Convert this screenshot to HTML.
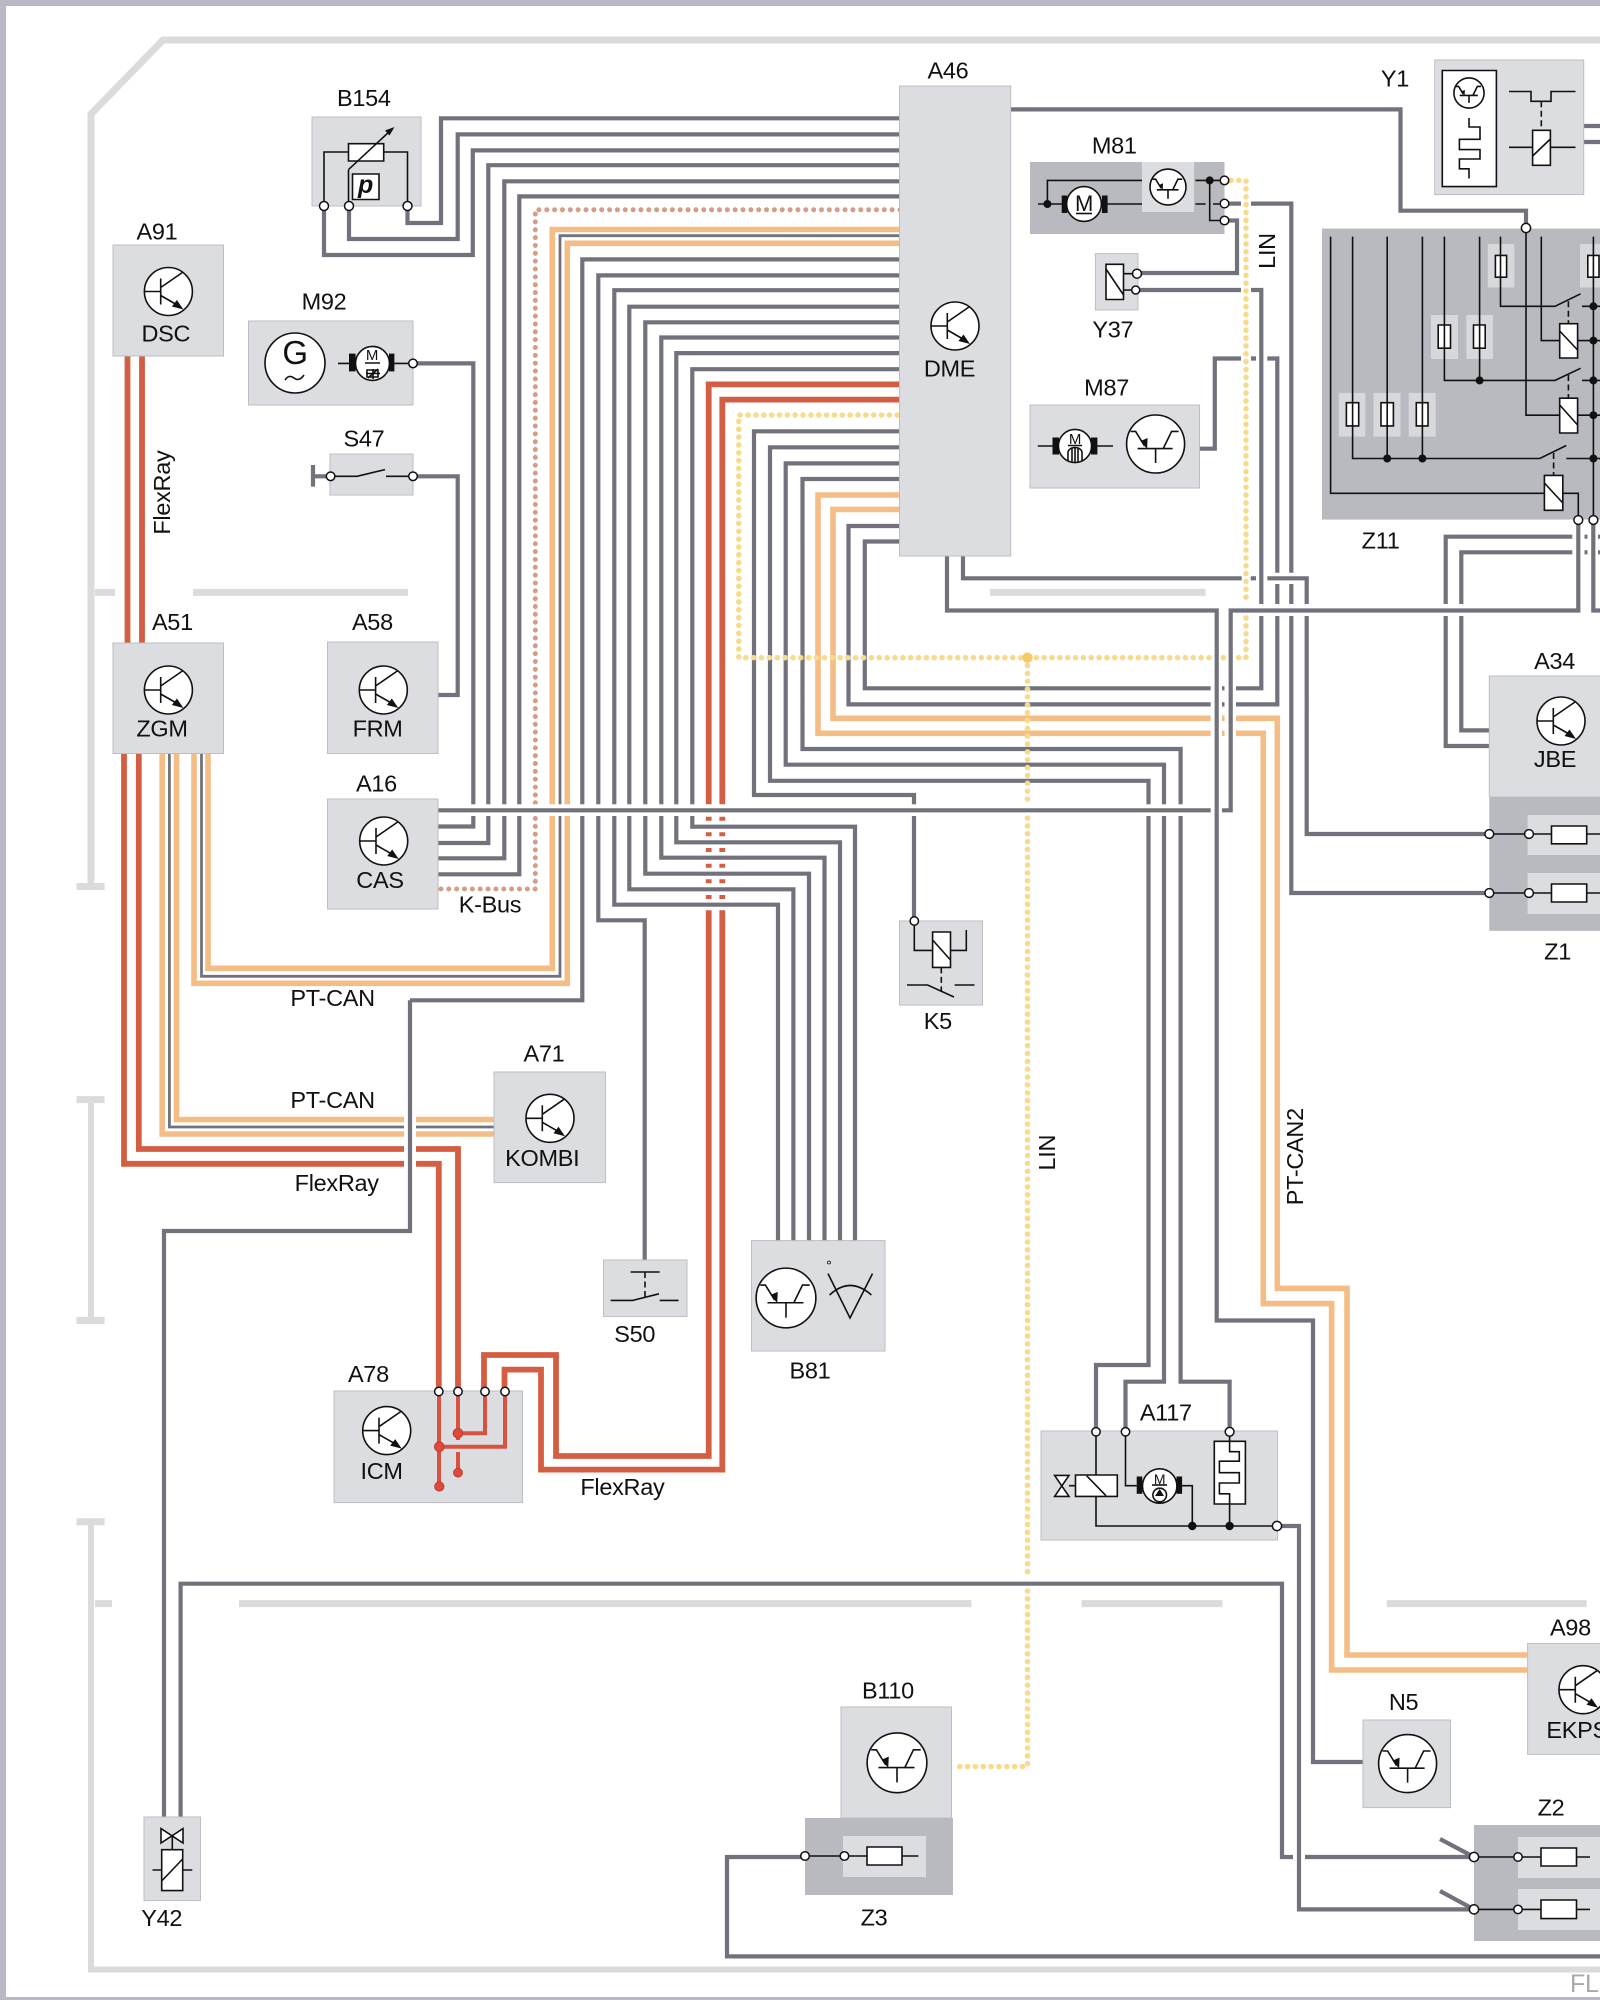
<!DOCTYPE html>
<html><head><meta charset="utf-8"><title>Diagram</title>
<style>
html,body{margin:0;padding:0;background:#fff;width:1600px;height:2000px;overflow:hidden}
svg{display:block}
.f{fill:none;stroke:#dadbdb}
.g{fill:none;stroke:#72727d;stroke-width:4.2}
.t{fill:none;stroke:#72727d;stroke-width:2.8}
.o{fill:none;stroke:#f4bd85;stroke-width:5.6}
.r{fill:none;stroke:#d35e43;stroke-width:5.8}
.ri{fill:none;stroke:#d8533f;stroke-width:4}
.y{fill:none;stroke:#f8da8a;stroke-width:5.6;stroke-linecap:round;stroke-dasharray:0 7.85}
.k{fill:none;stroke:#d69c86;stroke-width:5;stroke-linecap:round;stroke-dasharray:0 7.85}
.b{fill:#dcdde1;stroke:#bcbec3;stroke-width:1}
.d{fill:#b9babf}
.l{fill:#dcdde1}
.s{fill:none;stroke:#111;stroke-width:1.6;vector-effect:non-scaling-stroke}
.w{fill:#fff;stroke:#111;stroke-width:1.6;vector-effect:non-scaling-stroke}
.p{fill:#fff;stroke:#111;stroke-width:1.5}
.h{fill:#111}
.rd{fill:#dc4a3c;stroke:#c23b2e;stroke-width:1}
text{font-family:"Liberation Sans",sans-serif;font-size:23.5px;letter-spacing:-.3px;fill:#111;text-anchor:middle}
</style></head><body>
<svg xmlns="http://www.w3.org/2000/svg" width="1600" height="2000" viewBox="0 0 1600 2000">
<defs>
<g id="npn"><circle r="24" class="w"/><path class="s" d="M-24 0H-7.7M-7.7-13V13M-7.7-4L14-19M-7.7 4L8 13"/><polygon class="h" points="15,18 3.5,15 8.5,8.5"/></g>
<g id="hall"><circle r="29" class="w"/><path class="s" d="M-25-12.6H-20L-11 2M-18 4.6H17M0 4.6V19M7.6 4.6L16-12.6H23"/><polygon class="h" points="-8.5,5 -15,-3 -8,-6"/></g>
</defs>

<!-- frames -->
<path d="M0 3H1600M3 0V2000" fill="none" stroke="#b9b9c6" stroke-width="6"/>
<path d="M0 1998.5H1600" stroke="#b9b9c6" stroke-width="3"/>
<path class="f" d="M1600 40H163L91 114V886.5" style="stroke-width:7"/>
<path class="f" style="stroke-width:6" d="M91 1099.6V1320.5M91 1521.7V1969.5H1600"/>
<path style="stroke:#dadbdb;stroke-width:7;fill:none" d="M76.5 886.5H104.6M76.5 1099.6H104.6M76.5 1320.5H104.6M76.5 1521.7H104.6M95 592.4H115M193 592.4H408M990 592.4H1205.6M95 1603.6H112M239 1603.6H971.4M1081.6 1603.6H1222.5M1386.7 1603.6H1586.7"/>

<!-- wires: gray -->
<path class="g" d="M900 118.3H441V223H407.5V206
M900 134.4H457.7V239H349V206
M900 150.4H472.8V255H324V206
M413 363.4H473.3V826.5H438
M413 476.3H457.7V695H438
M900 165.2H488.3V843H438
M900 181.3H504.3V858.3H438
M900 196.4H519.3V874.3H438
M900 259.4H582.3V1000.3H410
M900 275.4H598.3V920.3H644.7V1260
M900 290.2H614.3V904.7H778V1241
M900 306.7H629.3V889.3H793.4V1241
M900 322.3H645.3V873.7H809V1241
M900 337.5H661.3V857.7H824.5V1241
M900 353.1H676.3V842.3H840V1241
M900 369.2H692.3V826.7H855V1241
M900 431.3H754V795H914V921
M900 447.3H770V780.8H1148.5V1365H1096V1431.8
M900 463.4H785.7V764.7H1164V1381.7H1125.5V1431.8
M900 479H802.5V749H1180.6V1381.7H1229.6V1431.8
M900 526H848.5V704.4H1210.7M1236 704.4H1277.3V584M1277.3 572.7V358.5H1267.3M1256 358.5H1251M1241 358.5H1214.8V448.7H1199.5
M900 541.5H864.8V688.3H1210.7M1236 688.3H1261.3V290H1251M1241 290H1135.7
M963 556V578.3H1241.7M1250.7 578.3H1256M1267.3 578.3H1306.7V834H1489
M1224 203.6H1241M1251 203.6H1291.3V572.7M1291.3 584V893H1489
M1224 220.5H1237V273H1137
M1222 688.3H1224.5M1222 704.4H1224.5
M1010 109.4H1400.5V210.7H1526V228
M1489 746H1445.7V536.7H1572.3M1489 730.4H1461.3V552.3H1572.3
M1584.5 536.7H1587.5M1584.5 552.3H1587.5M1598 536.7H1600M1598 552.3H1600
M1584 126H1600M1584 142H1600
M1277 1526H1299V1909.4H1474
M180.6 1817V1583.7H1282V1857H1293M1305 1857H1474
M805 1857H727V1956.4H1600
M313 465V486.6M313 476.3H330"/>
<path class="t" d="M900 235.7H560V976.3H201.5V753.5M169.4 753.5V1127H494"/>

<!-- orange -->
<path class="o" d="M900 229.5H552.3V968.3H208V753.5
M900 243.3H567.3V983.3H194V753.5
M176.5 753.5V1119.6H494M162.2 753.5V1134H494
M900 495H818V733.3H1210.7M1236 733.3H1263.3V1303.6H1331.6V1670H1527
M900 509.4H833V718.3H1210.7M1236 718.3H1277.3V1288.4H1347V1655H1527
M1222 718.3H1224.5M1222 733.3H1224.5"/>
<path class="k" d="M900 209.8H535.3V889H438"/>

<!-- red -->
<path class="r" d="M127.5 356V643M142 356V643M124 753.5V1163.8H438.8V1391M138.8 753.5V1149H458V1391"/>

<!-- halos -->
<rect x="440" y="804.3" width="770.7" height="11.7" fill="#fff"/>
<rect x="1236" y="604" width="336" height="12" fill="#fff"/>
<rect x="404" y="1114" width="12" height="54" fill="#fff"/>

<!-- after halos -->
<path class="r" d="M900 384.4H708.7V804.3M708.7 910.3V1456H556V1355H484V1391
M900 399.6H722.3V804.3M722.3 910.3V1469.6H541V1369.6H504.5V1391
M708.7 816.7v4M722.3 816.7v4M708.7 832.3v4M722.3 832.3v4M708.7 848v4M722.3 848v4M708.7 863.7v4M722.3 863.7v4M708.7 879.3v4M722.3 879.3v4M708.7 895v4M722.3 895v4"/>
<path class="g" d="M410 1000.3V1231H164V1817
M438 810.3H1210.7M1222 810.3H1230.7V610.5H1578.3V520
M947 556V610.5H1216.7V1320.5H1313V1762H1363
M1593.3 520V610.5H1600"/>
<path class="y" d="M1231 180.4H1246V604M1246 618V657.7H1232M1223.3 657.7H1223.4M1209 657.7H738.8V415H899"/>
<path class="y" d="M1027.5 657.7V804M1027.5 818V1577M1027.5 1591V1766.6H955.6"/>
<circle cx="1027.5" cy="657.7" r="5.2" fill="#f6cb63"/>

<!-- boxes -->
<rect class="b" x="312" y="117" width="109" height="89"/>
<rect class="b" x="113" y="245" width="110.5" height="111"/>
<rect class="b" x="248.5" y="321" width="164.5" height="84"/>
<rect class="b" x="330" y="454" width="83" height="41"/>
<rect class="b" x="113" y="643" width="110.5" height="110.5"/>
<rect class="b" x="327.5" y="642" width="110.5" height="111.5"/>
<rect class="b" x="327.5" y="799" width="110.5" height="110"/>
<rect class="b" x="494" y="1072" width="111.5" height="110.6"/>
<rect class="b" x="603.5" y="1260" width="83.5" height="56.5"/>
<rect class="b" x="751.5" y="1240.6" width="133.5" height="110.4"/>
<rect class="b" x="334" y="1391" width="188.5" height="111.6"/>
<rect class="b" x="144" y="1817" width="56.5" height="83.6"/>
<rect class="b" x="899.5" y="86" width="111.2" height="470"/>
<rect class="d" x="1030" y="162" width="194.5" height="72"/>
<rect class="l" x="1142" y="162" width="52" height="50"/>
<rect class="b" x="1095.4" y="253.6" width="42.6" height="56.4"/>
<rect class="b" x="1030" y="405" width="169.5" height="83"/>
<rect class="b" x="1434.7" y="60" width="149" height="134.6"/>
<rect class="d" x="1322" y="228.6" width="278" height="291"/>
<rect class="b" x="1489.3" y="676" width="120" height="121"/>
<rect class="d" x="1489.3" y="797" width="120" height="133.8"/>
<rect class="l" x="1527.6" y="815" width="80" height="40"/>
<rect class="l" x="1527.6" y="873" width="80" height="41"/>
<rect class="b" x="899.5" y="921" width="83" height="84"/>
<rect class="b" x="1041" y="1431" width="236.6" height="109"/>
<rect class="b" x="841" y="1707" width="110.5" height="111"/>
<rect class="d" x="805" y="1818" width="148" height="77"/>
<rect class="l" x="843" y="1836" width="83" height="41"/>
<rect class="b" x="1363" y="1720" width="87.5" height="87.6"/>
<rect class="b" x="1527.6" y="1643.4" width="90" height="111"/>
<rect class="d" x="1474" y="1825" width="140" height="116"/>
<rect class="l" x="1518" y="1837" width="90" height="41"/>
<rect class="l" x="1518" y="1889" width="90" height="41"/>

<!-- transistors -->
<use href="#npn" x="168.4" y="291.5"/>
<use href="#npn" x="168.4" y="690"/>
<use href="#npn" x="383.3" y="690"/>
<use href="#npn" x="383.7" y="841"/>
<use href="#npn" x="550" y="1118.3"/>
<use href="#npn" x="386.7" y="1430.6"/>
<use href="#npn" x="955" y="326"/>
<use href="#npn" x="1561" y="721"/>
<use href="#npn" x="1583" y="1689.7"/>
<use href="#hall" transform="translate(1155.6 444)"/>
<use href="#hall" transform="translate(897 1762.8) scale(1.03)"/>
<use href="#hall" transform="translate(1407.6 1763.6)"/>
<use href="#hall" transform="translate(786 1298) scale(1.03)"/>
<use href="#hall" transform="translate(1168 187) scale(.62)"/>

<!-- B154 -->
<path class="s" d="M324 206V152H348.5M383.7 152H407.5V206M348.5 206V169.6"/>
<rect class="w" x="348.5" y="143.7" width="35.2" height="17.3"/>
<path class="s" d="M348.5 169.6L390 131"/><polygon class="h" points="394.5,127 385,130.5 389.5,135.5"/>
<rect class="w" x="352.5" y="174" width="26.5" height="25.5"/>
<text x="365.5" y="193" style="font-weight:bold;font-style:italic;font-size:25px">p</text>

<!-- M92 -->
<circle cx="295" cy="363" r="30" class="w"/>
<text x="295" y="364" style="font-size:33px">G</text>
<path class="s" d="M285 380q4-6 9-2t10-3"/>
<path class="s" d="M338 363.4H349M394.4 363.4H413"/>
<rect class="h" x="349" y="353.6" width="6.6" height="17.8"/><rect class="h" x="389" y="353.6" width="5.4" height="17.8"/>
<circle cx="372.5" cy="363.4" r="17" class="w"/>
<text x="372" y="360" style="font-size:15px">M</text>
<path class="s" d="M365 363H380M366 373.5H380M373 369V379M368 378L378 369"/>
<rect class="s" x="367" y="370" width="11" height="7"/>

<!-- S47 -->
<path class="s" d="M330.6 476.3H357L385 469.6M386 476.3H413"/>

<!-- M81 -->
<path class="s" d="M1038 204H1062M1047.4 204V180.4H1142M1107.6 204H1142M1195.4 180.4H1224.5M1195.4 204H1205.6M1209.7 180.4V220.5H1224.5M1213 204H1224.5"/>
<circle class="h" cx="1047.4" cy="204" r="4"/><circle class="h" cx="1209.7" cy="180.4" r="4"/>
<rect class="h" x="1061.7" y="195.5" width="5.6" height="17.5"/><rect class="h" x="1102" y="195.5" width="5.6" height="17.5"/>
<circle cx="1084" cy="204" r="17.4" class="w"/>
<text x="1084" y="211" style="font-size:22px">M</text><path class="s" d="M1076 213.5H1092"/>

<!-- Y37 -->
<rect class="w" x="1106" y="264.3" width="17.5" height="35.2"/>
<path class="s" d="M1106 269L1123.5 295M1123.5 273.7H1137M1123.5 290H1135.7"/>

<!-- M87 -->
<path class="s" d="M1037.8 446H1052.5M1097.4 446H1113"/>
<rect class="h" x="1052.5" y="437.5" width="6.5" height="17"/><rect class="h" x="1091" y="437.5" width="6.4" height="17"/>
<circle cx="1075" cy="446" r="16.6" class="w"/>
<text x="1075" y="444" style="font-size:15px">M</text>
<path class="s" d="M1068 445.5H1082M1068 461V452.5A7 5 0 0 1 1082 452.5V461M1075 448V462M1072 448V462M1078 448V462"/>

<!-- Y1 -->
<rect class="w" x="1442.3" y="70.5" width="54.1" height="116.1"/>
<use href="#hall" transform="translate(1469 93) scale(.52)"/>
<path class="s" d="M1469 118V127H1480V139.3H1459.4V149.6H1480V159H1459.4V168.8H1469V178.5"/>
<path class="s" d="M1509 91.5H1531V101.3H1551V91.5H1575.5M1509 147.3H1532.6M1550.4 147.3H1575.5"/>
<path class="s" d="M1541.3 101.3V130" stroke-dasharray="6 3.5"/>
<rect class="w" x="1532.6" y="130.3" width="17.8" height="35"/>
<path class="s" d="M1532.6 156L1550.4 139"/>

<!-- Z11 -->
<g>
<rect x="1487.8" y="244" width="26.5" height="43.5" fill="#d7d8dc"/>
<rect x="1580" y="244" width="30" height="43.5" fill="#d7d8dc"/>
<rect x="1431" y="315" width="27" height="44" fill="#d7d8dc"/>
<rect x="1466.3" y="315" width="26.6" height="44" fill="#d7d8dc"/>
<rect x="1338.8" y="392.9" width="26.5" height="43.7" fill="#d7d8dc"/>
<rect x="1373.5" y="392.9" width="27" height="43.7" fill="#d7d8dc"/>
<rect x="1408.7" y="392.9" width="27" height="43.7" fill="#d7d8dc"/>
<rect class="w" x="1495.4" y="255.4" width="11.2" height="21.8"/>
<rect class="w" x="1587.8" y="255.4" width="11.2" height="21.8"/>
<rect class="w" x="1438.2" y="325" width="12.3" height="23.2"/>
<rect class="w" x="1473.5" y="325" width="11.7" height="23.2"/>
<rect class="w" x="1346.4" y="402.7" width="12.3" height="23.2"/>
<rect class="w" x="1381" y="402.7" width="12.4" height="23.2"/>
<rect class="w" x="1416.3" y="402.7" width="11.7" height="23.2"/>
<path class="s" d="M1330.6 236.6V493.3H1544.4M1352.6 236.6V458.5H1539.8L1566.3 445.5M1566.3 458.5H1600M1387.2 236.6V458.5M1422.4 236.6V458.5M1444.4 236.6V380.4H1555L1580.6 368.3M1582 380.4H1600M1479.6 236.6V380.4M1500.5 236.6V306.3H1555L1580.6 293.8M1582 306.3H1600M1526 228V415.2H1559.7M1541.3 236.6V340.6H1559.7M1577.6 340.6H1600M1577.6 415.2H1600M1593.4 236.6V520M1562.8 493.3H1578.3V520"/>
<path class="s" stroke-dasharray="6 3.5" d="M1568.4 301.3V323.7M1568.4 375V398.2M1553.6 453V475.4"/>
<rect class="w" x="1559.7" y="323.7" width="17.9" height="34.3"/>
<rect class="w" x="1559.7" y="398.2" width="17.9" height="34.8"/>
<rect class="w" x="1544.4" y="475.4" width="18.4" height="34.9"/>
<path class="s" d="M1559.7 331L1577.6 350M1559.7 405L1577.6 425M1544.4 483L1562.8 503"/>
<g class="h"><circle cx="1593.4" cy="306.3" r="4"/><circle cx="1593.4" cy="340.6" r="4"/><circle cx="1593.4" cy="380.4" r="4"/><circle cx="1593.4" cy="415.2" r="4"/><circle cx="1593.4" cy="458.5" r="4"/><circle cx="1479.6" cy="380.4" r="4"/><circle cx="1387.2" cy="458.5" r="4"/><circle cx="1422.4" cy="458.5" r="4"/></g>
</g>

<!-- Z1 / Z2 / Z3 fuses -->
<path class="s" d="M1489 834H1600M1489 893H1600"/>
<rect class="w" x="1551.5" y="826" width="35.2" height="17.8"/>
<rect class="w" x="1551.5" y="884" width="35.2" height="18"/>
<path class="s" d="M805 1856H918.4"/>
<rect class="w" x="867" y="1847" width="35" height="18"/>
<path class="s" d="M1474 1857H1590M1474 1909.4H1590"/>
<rect class="w" x="1541" y="1848" width="35.5" height="18"/>
<rect class="w" x="1541" y="1900" width="35.5" height="18.6"/>
<path class="g" d="M1440 1839L1474 1857M1440 1891L1474 1909.4"/>

<!-- K5 -->
<path class="s" d="M914.3 921V950.4H932.6M950.5 950.4H966.3V930M907 985H927.6L954 997M954.6 985H974.5"/>
<path class="s" stroke-dasharray="6 3.5" d="M941.3 967.4V992"/>
<rect class="w" x="932.6" y="932" width="17.9" height="35.4"/>
<path class="s" d="M932.6 940L950.5 960"/>

<!-- S50 -->
<path class="s" d="M630.6 1272H659.7M610.7 1300.4H632.7L659 1293.8M659.7 1300.4H678.6"/>
<path class="s" stroke-dasharray="6 3.5" d="M645 1272V1298"/>

<!-- B81 right -->
<path class="s" d="M828 1273.6L850 1318L872.5 1273.6M829.6 1295Q850 1276 871.4 1295"/>
<circle cx="829" cy="1262.5" r="1.5" fill="none" stroke="#111" stroke-width=".8"/>

<!-- A117 -->
<path class="s" d="M1096 1431.8V1475M1096 1496.4V1526H1277M1125.5 1431.8V1485.7H1136.7M1182 1485.7H1192.3V1526M1069 1485.7H1075.5"/>
<polygon class="w" points="1054.6,1475.4 1069,1475.4 1054.6,1496.4 1069,1496.4"/>
<rect class="w" x="1075.5" y="1475" width="41.8" height="21.4"/>
<path class="s" d="M1086.7 1475.8L1106 1495.7"/>
<rect class="h" x="1136.7" y="1476.5" width="5.6" height="17.3"/><rect class="h" x="1176.5" y="1476.5" width="5.6" height="17.3"/>
<circle cx="1159.7" cy="1486" r="17.2" class="w"/>
<text x="1159.5" y="1484" style="font-size:14px">M</text>
<path class="s" d="M1152 1485H1167"/><circle class="s" cx="1159.7" cy="1495" r="6.8"/><polygon class="h" points="1159.7,1489 1155,1496 1164,1496"/>
<rect class="w" x="1214.3" y="1441.3" width="31.1" height="62.7"/>
<path class="s" d="M1229.6 1431.8V1451.7H1239.3V1461.2H1219.4V1472.7H1239.3V1483H1219.4V1493.8H1229.6V1526"/>
<circle class="h" cx="1192.3" cy="1526" r="4.2"/><circle class="h" cx="1229.6" cy="1526" r="4.2"/>

<!-- Y42 -->
<polygon class="w" points="161,1828.6 183,1843 183,1828.6 161,1843"/>
<path class="s" d="M172.3 1836V1849.7M152.5 1870H161.7M182.7 1870H192.3"/>
<rect class="w" x="161.7" y="1849.7" width="21" height="40.9"/>
<path class="s" d="M161.7 1881L182.7 1859"/>

<!-- ICM internal red -->
<path class="ri" d="M439 1391V1486.5M458 1391V1440M458 1452V1472.7M485 1391V1433.3H458M505 1391V1446.7H439"/>
<g class="rd"><circle cx="458" cy="1433.3" r="4.8"/><circle cx="439.3" cy="1446.7" r="4.8"/><circle cx="458" cy="1472.7" r="4.4"/><circle cx="439.3" cy="1486.5" r="4.6"/></g>

<!-- ports -->
<g class="p">
<circle cx="324" cy="206" r="4.5"/><circle cx="349" cy="206" r="4.5"/><circle cx="407.5" cy="206" r="4.5"/>
<circle cx="413" cy="363.4" r="4.3"/><circle cx="330.6" cy="476.3" r="4.3"/><circle cx="413" cy="476.3" r="4.3"/>
<circle cx="1224.5" cy="180.4" r="4.3"/><circle cx="1224.5" cy="203.6" r="4.3"/><circle cx="1224.5" cy="220.5" r="4.3"/>
<circle cx="1137" cy="273.7" r="4.5"/><circle cx="1135.7" cy="290" r="4"/>
<circle cx="1526" cy="228" r="4.6"/><circle cx="1578.3" cy="520" r="4.4"/><circle cx="1593.4" cy="520" r="4.4"/>
<circle cx="1489.3" cy="834" r="4.4"/><circle cx="1529" cy="834" r="4.4"/><circle cx="1489.3" cy="893" r="4.4"/><circle cx="1529" cy="893" r="4.4"/>
<circle cx="914.3" cy="921" r="4.2"/>
<circle cx="438.8" cy="1391.5" r="4.2"/><circle cx="458" cy="1391.5" r="4.2"/><circle cx="485" cy="1391.5" r="4.2"/><circle cx="505" cy="1391.5" r="4.2"/>
<circle cx="1096" cy="1431.8" r="4.2"/><circle cx="1125.5" cy="1431.8" r="4.2"/><circle cx="1229.6" cy="1431.8" r="4.4"/><circle cx="1277" cy="1526" r="4.6"/>
<circle cx="805" cy="1856" r="4.3"/><circle cx="844.4" cy="1856" r="4.3"/>
<circle cx="1474" cy="1857" r="4.6"/><circle cx="1518" cy="1857" r="4.2"/><circle cx="1474" cy="1909.4" r="4.6"/><circle cx="1518" cy="1909.4" r="4.2"/>
</g>

<!-- labels -->
<text x="363.8" y="105.8">B154</text>
<text x="157" y="239.7">A91</text>
<text x="324" y="309.4">M92</text>
<text x="364" y="446.4">S47</text>
<text x="172.4" y="630">A51</text>
<text x="372.4" y="630">A58</text>
<text x="165.8" y="341.5">DSC</text>
<text x="162" y="736.6">ZGM</text>
<text x="377.6" y="736.6">FRM</text>
<text x="376.5" y="791.5">A16</text>
<text x="380" y="888">CAS</text>
<text x="490" y="912.5">K-Bus</text>
<text x="332.6" y="1006">PT-CAN</text>
<text x="332.6" y="1108">PT-CAN</text>
<text x="336.7" y="1191">FlexRay</text>
<text x="544" y="1061.6">A71</text>
<text x="542.3" y="1166">KOMBI</text>
<text x="634.7" y="1342">S50</text>
<text x="368.4" y="1382">A78</text>
<text x="381.6" y="1478.8">ICM</text>
<text x="622.4" y="1495">FlexRay</text>
<text x="161.7" y="1926">Y42</text>
<text x="948" y="78.6">A46</text>
<text x="949.5" y="376.3">DME</text>
<text x="1114.3" y="153.6">M81</text>
<text x="1112.8" y="337.5">Y37</text>
<text x="1106.6" y="395.5">M87</text>
<text x="1395" y="86.6">Y1</text>
<text x="1380.6" y="548.7">Z11</text>
<text x="1554.6" y="669">A34</text>
<text x="1555" y="767">JBE</text>
<text x="1557.6" y="959.4">Z1</text>
<text x="937.8" y="1029">K5</text>
<text x="810" y="1378.6">B81</text>
<text x="1165.8" y="1420.7">A117</text>
<text x="888" y="1698.5">B110</text>
<text x="874" y="1925.5">Z3</text>
<text x="1403.6" y="1710">N5</text>
<text x="1551" y="1815.6">Z2</text>
<text x="1570.4" y="1635.7">A98</text>
<text x="1546.4" y="1738" style="text-anchor:start">EKPS</text>
<text transform="translate(170 492.6) rotate(-90)">FlexRay</text>
<text transform="translate(1275 251) rotate(-90)">LIN</text>
<text transform="translate(1055 1152.7) rotate(-90)">LIN</text>
<text transform="translate(1303 1156.7) rotate(-90)">PT-CAN2</text>
<text x="1570" y="1992" style="text-anchor:start;font-size:25px;fill:#a9a9a9">FL</text>
</svg>
</body></html>
